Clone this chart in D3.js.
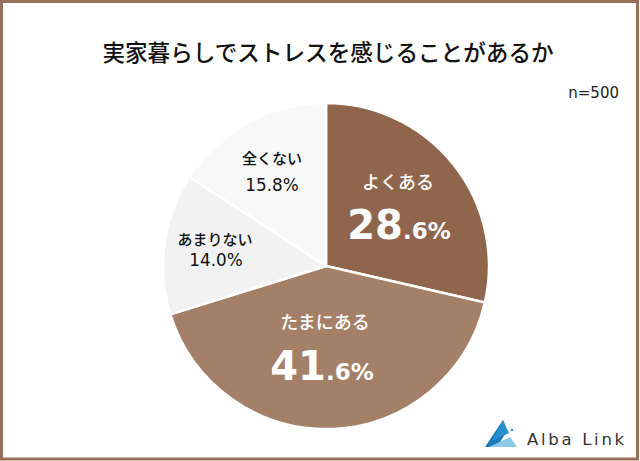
<!DOCTYPE html>
<html><head><meta charset="utf-8">
<script src="https://cdn.jsdelivr.net/npm/d3@7"></script>
<style>html,body{margin:0;padding:0;background:#fff}svg{display:block}text{font-family:"Noto Sans CJK JP","Noto Sans",sans-serif}</style>
</head><body><svg id="c" width="640" height="461"></svg>
<script>
const categories = ["よくある","たまにある","あまりない","全くない"];
const values = [28.6,41.6,14.0,15.8];
const title = "実家暮らしでストレスを感じることがあるか";
const sampleNote = "n=500";
const brand = "Alba Link";

const colors = d3.scaleOrdinal().domain(categories).range(["#8f654c","#a58069","#f2f2f2","#f8f8f8"]);
const svg = d3.select("#c");
const latin = "font-family:'DejaVu Sans'";
svg.append("rect").attr("x",1.5).attr("y",1.5).attr("width",636).attr("height",457.5)
  .attr("fill","#fff").attr("stroke","#96705a").attr("stroke-width",3);

svg.append("text").attr("x",328).attr("y",61).attr("text-anchor","middle")
  .attr("font-size",22.6).attr("font-weight",500).attr("fill","#111").text(title);
svg.append("text").attr("x",619).attr("y",98).attr("text-anchor","end")
  .attr("font-size",15).attr("fill","#222").attr("style",latin).text(sampleNote);

const cx=326, cy=266, R=163;
const pie = d3.pie().sort(null).value((d,i)=>values[i]);
const arc = d3.arc().innerRadius(0).outerRadius(R);
const g = svg.append("g").attr("transform",`translate(${cx},${cy})`);
g.selectAll("path").data(pie(categories)).join("path")
  .attr("d",arc).attr("fill",d=>colors(d.data)).attr("stroke","#fff").attr("stroke-width",2.5).attr("stroke-linejoin","round");

function label(x,y,txt,size,fill,weight){
  return svg.append("text").attr("x",x).attr("y",y).attr("text-anchor","middle")
    .attr("font-size",size).attr("fill",fill).attr("font-weight",weight||400).text(txt);
}
function bigPct(x,y,v){
  const s=v.toFixed(1).split(".");
  const t=svg.append("text").attr("x",x).attr("y",y).attr("text-anchor","middle").attr("fill","#fff")
    .attr("font-weight",700).attr("style",latin);
  t.append("tspan").attr("font-size",40).text(s[0]);
  t.append("tspan").attr("font-size",23).text("."+s[1]+"%");
}
label(398,189,categories[0],18,"#fff",500);
bigPct(399,239,values[0]);
label(325,329,categories[1],18,"#fff",500);
bigPct(322,380,values[1]);
label(215,245,categories[2],15,"#111",500);
label(216,266,values[2].toFixed(1)+"%",16.8,"#111").attr("style",latin);
label(272,164,categories[3],15,"#111",500);
label(272,191,values[3].toFixed(1)+"%",16.8,"#111").attr("style",latin);

// logo
const logo = svg.append("g");
logo.append("path").attr("d","M503 420 L485 447 L497 447 L507 431 Z").attr("fill","#1b78b8");
logo.append("path").attr("d","M503 420 L509 433 L492 441 Z").attr("fill","#2a8fcf");
logo.append("path").attr("d","M489 447 L510 437 L517 447 Z").attr("fill","#8cc7e6");
logo.append("circle").attr("cx",512).attr("cy",430).attr("r",1.3).attr("fill","#2a8fcf");
svg.append("text").attr("x",527).attr("y",445).attr("font-size",16.5).attr("letter-spacing",2.7)
  .attr("fill","#333").attr("style",latin).text(brand);
</script></body></html>
